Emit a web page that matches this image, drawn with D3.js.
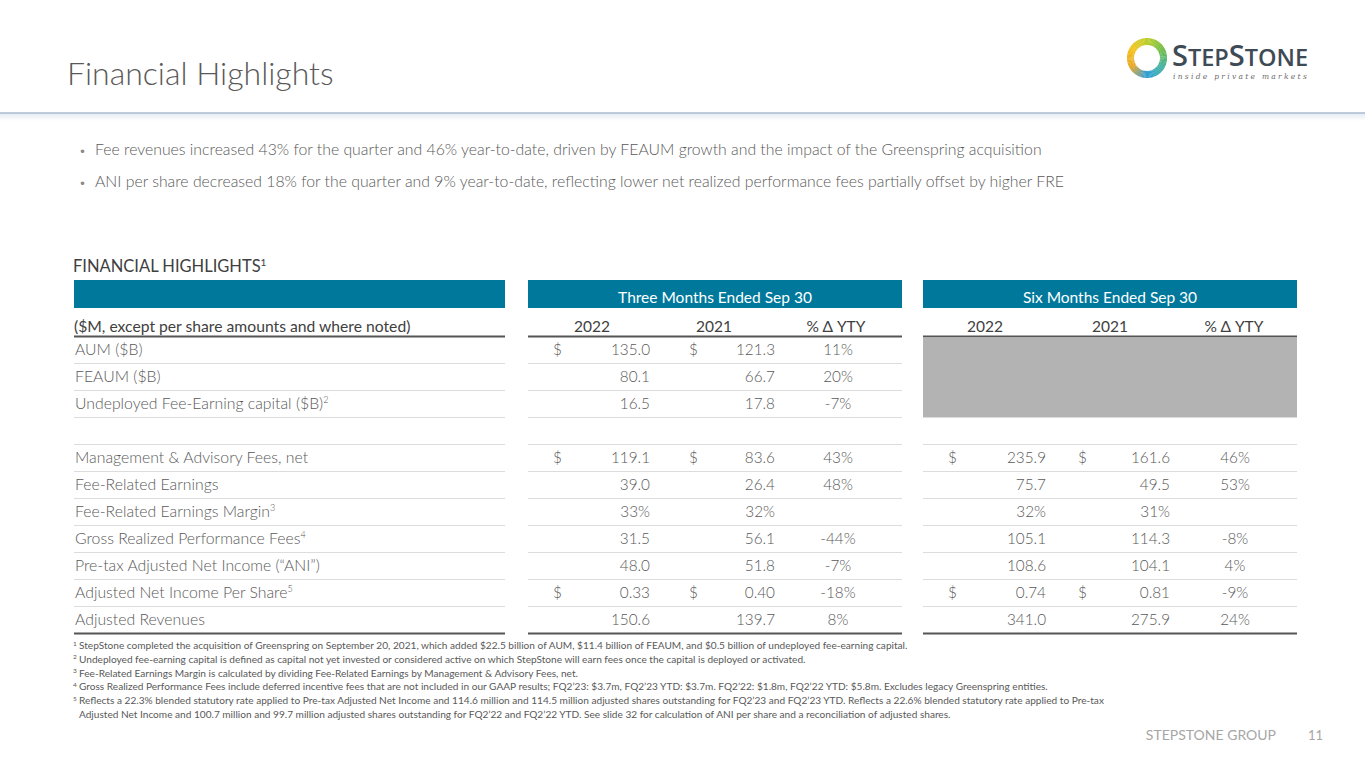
<!DOCTYPE html>
<html>
<head>
<meta charset="utf-8">
<script src="https://cdn.jsdelivr.net/npm/d3@7"></script>
<style>
  body { margin: 0; background: #fff; }
  svg { display: block; font-family: Lato, "Open Sans", sans-serif; }
</style>
</head>
<body>
<div id="slide"></div>
<script>
// table rows
var rowLabels = ["AUM ($B)", "FEAUM ($B)", "Undeployed Fee-Earning capital ($B)", "",
  "Management & Advisory Fees, net", "Fee-Related Earnings", "Fee-Related Earnings Margin",
  "Gross Realized Performance Fees", "Pre-tax Adjusted Net Income (\u201cANI\u201d)",
  "Adjusted Net Income Per Share", "Adjusted Revenues"]
var rowNotes = ["", "", "2", "", "", "", "3", "4", "", "5", ""]
var dollarRows = [0, 4, 9]

var q2022 = ["135.0", "80.1", "16.5", "", "119.1", "39.0", "33%", "31.5", "48.0", "0.33", "150.6"]
var q2021 = ["121.3", "66.7", "17.8", "", "83.6", "26.4", "32%", "56.1", "51.8", "0.40", "139.7"]
var qPct = ["11%", "20%", "-7%", "", "43%", "48%", "", "-44%", "-7%", "-18%", "8%"]

var ytd2022 = ["", "", "", "", "235.9", "75.7", "32%", "105.1", "108.6", "0.74", "341.0"]
var ytd2021 = ["", "", "", "", "161.6", "49.5", "31%", "114.3", "104.1", "0.81", "275.9"]
var ytdPct = ["", "", "", "", "46%", "53%", "", "-8%", "4%", "-9%", "24%"]

var groupTitles = ["Three Months Ended Sep 30", "Six Months Ended Sep 30"]
var colHeads = ["2022", "2021", "% \u0394 YTY"]

var bullets = [
  "Fee revenues increased 43% for the quarter and 46% year-to-date, driven by FEAUM growth and the impact of the Greenspring acquisition",
  "ANI per share decreased 18% for the quarter and 9% year-to-date, reflecting lower net realized performance fees partially offset by higher FRE"
]

var footnotes = [
  ["1", "StepStone completed the acquisition of Greenspring on September 20, 2021, which added $22.5 billion of AUM, $11.4 billion of FEAUM, and $0.5 billion of undeployed fee-earning capital."],
  ["2", "Undeployed fee-earning capital is defined as capital not yet invested or considered active on which StepStone will earn fees once the capital is deployed or activated."],
  ["3", "Fee-Related Earnings Margin is calculated by dividing Fee-Related Earnings by Management & Advisory Fees, net."],
  ["4", "Gross Realized Performance Fees include deferred incentive fees that are not included in our GAAP results; FQ2\u201923: $3.7m, FQ2\u201923 YTD: $3.7m. FQ2\u201922: $1.8m, FQ2\u201922 YTD: $5.8m. Excludes legacy Greenspring entities."],
  ["5", "Reflects a 22.3% blended statutory rate applied to Pre-tax Adjusted Net Income and 114.6 million and 114.5 million adjusted shares outstanding for FQ2\u201923 and FQ2\u201923 YTD. Reflects a 22.6% blended statutory rate applied to Pre-tax"],
  ["", "Adjusted Net Income and 100.7 million and 99.7 million adjusted shares outstanding for FQ2\u201922 and FQ2\u201922 YTD. See slide 32 for calculation of ANI per share and a reconciliation of adjusted shares."]
]

var W = 1365, H = 768
var blue = "#00789c", txt = "#595959", dark = "#404040"

var svg = d3.select("#slide").append("svg")
  .attr("width", W).attr("height", H)

// title + divider
svg.append("text")
  .attr("x", 67).attr("y", 85)
  .attr("font-size", 32).attr("font-weight", 300)
  .attr("fill", txt)
  .text("Financial Highlights")

var defs = svg.append("defs")
var shadow = defs.append("linearGradient").attr("id", "shade")
  .attr("x1", 0).attr("x2", 0).attr("y1", 0).attr("y2", 1)
shadow.append("stop").attr("offset", 0).attr("stop-color", "#e3eaf1")
shadow.append("stop").attr("offset", 1).attr("stop-color", "#ffffff")
svg.append("rect").attr("x", 0).attr("y", 113).attr("width", W).attr("height", 8)
  .attr("fill", "url(#shade)")
svg.append("line").attr("x1", 0).attr("x2", W).attr("y1", 113).attr("y2", 113)
  .attr("stroke", "#a8bdd1").attr("stroke-width", 1.5)

// logo
var logo = svg.append("g").attr("transform", "translate(1147,58)")
var ringColor = d3.scaleLinear()
  .domain([0, 60, 120, 180, 240, 300, 360])
  .range(["#b9cf2c", "#6dbb45", "#3fb0a0", "#2f9fd9", "#e9a521", "#f4c21a", "#b9cf2c"])
var ringArc = d3.arc().innerRadius(13).outerRadius(20)
d3.range(0, 360, 4).forEach(function(a){
  logo.append("path")
    .attr("d", ringArc({startAngle: a * Math.PI / 180, endAngle: (a + 4.6) * Math.PI / 180}))
    .attr("fill", ringColor(a))
})
var brand = svg.append("text").attr("x", 1172).attr("y", 66)
  .attr("fill", "#3e4a55").attr("font-family", "'Open Sans', sans-serif").attr("font-weight", 600)
brand.append("tspan").attr("font-size", 29).text("S")
brand.append("tspan").attr("font-size", 23.5).text("TEP")
brand.append("tspan").attr("font-size", 29).text("S")
brand.append("tspan").attr("font-size", 23.5).text("TONE")
svg.append("text").attr("x", 1173).attr("y", 79)
  .attr("font-family", "'DejaVu Serif', serif").attr("font-style", "italic")
  .attr("font-size", 7.5).attr("letter-spacing", 2.3).attr("fill", "#6b6b6b")
  .text("inside private markets")

// bullets
svg.selectAll(".bullet").data(bullets).enter().append("text")
  .attr("class", "bullet")
  .attr("x", 79).attr("y", function(d, i){ return 155 + i * 32 })
  .attr("font-size", 15.8).attr("font-weight", 300).attr("fill", txt)
  .each(function(d){
    d3.select(this).append("tspan").attr("font-size", 12).attr("fill", "#8a8a8a").text("\u2022")
    d3.select(this).append("tspan").attr("x", 95).text(d)
  })

// table heading
var th = svg.append("text").attr("x", 73).attr("y", 272)
  .attr("font-size", 16.5).attr("fill", dark)
th.append("tspan").text("FINANCIAL HIGHLIGHTS")
th.append("tspan").attr("font-size", 10).attr("dy", -6).text("1")

// column layout
var sections = [
  {x0: 74, x1: 505},
  {x0: 528, x1: 902, cols: [q2022, q2021, qPct], dollar: [553, 689], right: [650, 775], pct: 838, heads: [592, 714, 836]},
  {x0: 923, x1: 1297, cols: [ytd2022, ytd2021, ytdPct], dollar: [948, 1078], right: [1046, 1170], pct: 1235, heads: [985, 1110, 1234]}
]

var y = d3.scaleBand().domain(d3.range(rowLabels.length)).range([336, 633])

sections.forEach(function(s, si){
  svg.append("rect").attr("x", s.x0).attr("y", 280)
    .attr("width", s.x1 - s.x0).attr("height", 28).attr("fill", blue)
  // row separators
  svg.selectAll(".sep" + si).data(d3.range(1, rowLabels.length)).enter().append("line")
    .attr("x1", s.x0).attr("x2", s.x1)
    .attr("y1", function(d){ return y(d) + 0.5 }).attr("y2", function(d){ return y(d) + 0.5 })
    .attr("stroke", "#dcdcdc").attr("stroke-width", 1.2)
  svg.append("line").attr("x1", s.x0).attr("x2", s.x1).attr("y1", 336.5).attr("y2", 336.5)
    .attr("stroke", "#555").attr("stroke-width", 1.8)
  svg.append("line").attr("x1", s.x0).attr("x2", s.x1).attr("y1", 633.5).attr("y2", 633.5)
    .attr("stroke", "#555").attr("stroke-width", 1.8)
})

// gray block for balance-sheet rows in six-month section
svg.append("rect").attr("x", 923).attr("y", 337.5)
  .attr("width", 1297 - 923).attr("height", y(3) - 337.5).attr("fill", "#b3b3b3")

// header row
svg.append("text").attr("x", 74).attr("y", 332)
  .attr("font-size", 15.7).attr("fill", dark)
  .text("($M, except per share amounts and where noted)")

sections.slice(1).forEach(function(s, k){
  svg.append("text").attr("x", (s.x0 + s.x1) / 2).attr("y", 303)
    .attr("text-anchor", "middle").attr("font-size", 15.5).attr("fill", "#fff")
    .text(groupTitles[k])
  colHeads.forEach(function(h, j){
    svg.append("text").attr("x", s.heads[j]).attr("y", 332)
      .attr("text-anchor", "middle").attr("font-size", 15.5).attr("fill", dark)
      .text(h)
  })
})

// row labels
var base = function(i){ return y(i) + 19 }
svg.selectAll(".lab").data(rowLabels).enter().append("text")
  .attr("class", "lab")
  .attr("x", 75).attr("y", function(d, i){ return base(i) })
  .attr("font-size", 15.8).attr("font-weight", 300).attr("fill", txt)
  .each(function(d, i){
    d3.select(this).append("tspan").text(d)
    if (rowNotes[i]) d3.select(this).append("tspan")
      .attr("font-size", 9).attr("dy", -6).text(rowNotes[i])
  })

// values
sections.slice(1).forEach(function(s){
  [0, 1].forEach(function(j){
    var g = svg.append("g")
    g.selectAll("text.v").data(s.cols[j]).enter().append("text")
      .attr("class", "v")
      .attr("x", s.right[j]).attr("y", function(d, i){ return base(i) })
      .attr("text-anchor", "end").attr("font-size", 15.3).attr("font-weight", 300).attr("fill", txt)
      .text(function(d){ return d })
    g.selectAll("text.d").data(dollarRows.filter(function(r){ return s.cols[j][r] !== "" })).enter().append("text")
      .attr("class", "d")
      .attr("x", s.dollar[j]).attr("y", function(r){ return base(r) })
      .attr("font-size", 15.3).attr("font-weight", 300).attr("fill", txt)
      .text("$")
  })
  svg.append("g").selectAll("text").data(s.cols[2]).enter().append("text")
    .attr("x", s.pct).attr("y", function(d, i){ return base(i) })
    .attr("text-anchor", "middle").attr("font-size", 15.3).attr("font-weight", 300).attr("fill", txt)
    .text(function(d){ return d })
})

// footnotes
svg.selectAll(".fn").data(footnotes).enter().append("text")
  .attr("class", "fn")
  .attr("x", 73).attr("y", function(d, i){ return 649 + i * 13.8 })
  .attr("font-size", 10.1).attr("fill", txt)
  .each(function(d){
    var t = d3.select(this)
    if (d[0]) t.append("tspan").attr("font-size", 6.5).attr("dy", -3.5).text(d[0])
    t.append("tspan").attr("x", 79).attr("dy", d[0] ? 3.5 : 0).text(d[1])
  })

// footer
svg.append("text").attr("x", 1276).attr("y", 740).attr("text-anchor", "end")
  .attr("font-size", 14).attr("fill", "#a6a6a6").text("STEPSTONE GROUP")
svg.append("text").attr("x", 1323).attr("y", 740).attr("text-anchor", "end")
  .attr("font-size", 13).attr("fill", "#a6a6a6").text("11")
</script>
</body>
</html>
